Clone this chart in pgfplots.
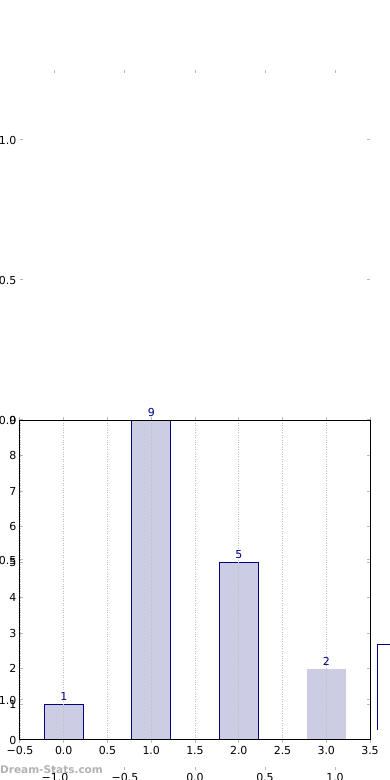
\documentclass[border=0pt]{standalone}
\usepackage{pgfplots}
\pgfplotsset{compat=1.18}
\usepackage{fontspec}
\setmainfont{DejaVu Sans}
\definecolor{barfill}{RGB}{204,204,229}
\definecolor{navyc}{RGB}{0,0,128}
\definecolor{tickgray}{RGB}{185,185,185}
\pgfplotsset{every axis/.append style={font=\fontsize{11pt}{13pt}\selectfont,
  /pgf/number format/assume math mode=true}}
\begin{document}
\begin{tikzpicture}[x=1pt,y=1pt]
\useasboundingbox (0,0) rectangle (390,780);
\clip (0,0) rectangle (390,780);
% background empty axis
\begin{axis}[at={(20pt,10pt)}, anchor=south west, scale only axis,
  width=350pt, height=700pt,
  xmin=-1.25, xmax=1.25, ymin=-1.25, ymax=1.25,
  axis line style={draw=none},
  xtick={-1,-0.5,0,0.5,1}, xticklabels={−1.0,−0.5,0.0,0.5,1.0},
  ytick={-1,-0.5,0,0.5,1}, yticklabels={−1.0,−0.5,0.0,0.5,1.0},
  tick align=inside, major tick length=3pt,
  tick style={tickgray, line width=1pt}]
\addplot[draw=none] coordinates {(0,0)};
\end{axis}
% bar chart axis
\begin{axis}[at={(20pt,40pt)}, anchor=south west, scale only axis,
  width=350pt, height=320pt,
  xmin=-0.5, xmax=3.5, ymin=0, ymax=9,
  xtick={-0.5,0,...,3.5},
  xticklabels={−0.5,0.0,0.5,1.0,1.5,2.0,2.5,3.0,3.5},
  ytick={0,1,...,9},
  yticklabels={0,1,2,3,4,5,6,7,8,9},
  xmajorgrids, grid style={dotted, gray!50, line width=0.9pt},
  axis on top,
  axis line style={black, line width=1pt},
  tick align=inside, major tick length=3pt,
  tick style={tickgray, line width=1pt},
  ybar, bar width=0.45,
  nodes near coords,
  nodes near coords style={text=navyc, font=\fontsize{11pt}{13pt}\selectfont}]
\addplot[bar shift=0pt, fill=barfill, draw=navyc, line width=1pt] coordinates {(0,1) (1,9) (2,5)};
\addplot[bar shift=0pt, fill=barfill, draw=none] coordinates {(3,2)};
\end{axis}
\draw[navyc, line width=1pt] (377,50) -- (377,135) -- (391,135);
\node[anchor=west, inner sep=0pt, text=gray!60, font=\fontsize{10.5pt}{12pt}\selectfont\bfseries] at (0,10) {Dream-Stats.com};
\end{tikzpicture}
\end{document}
